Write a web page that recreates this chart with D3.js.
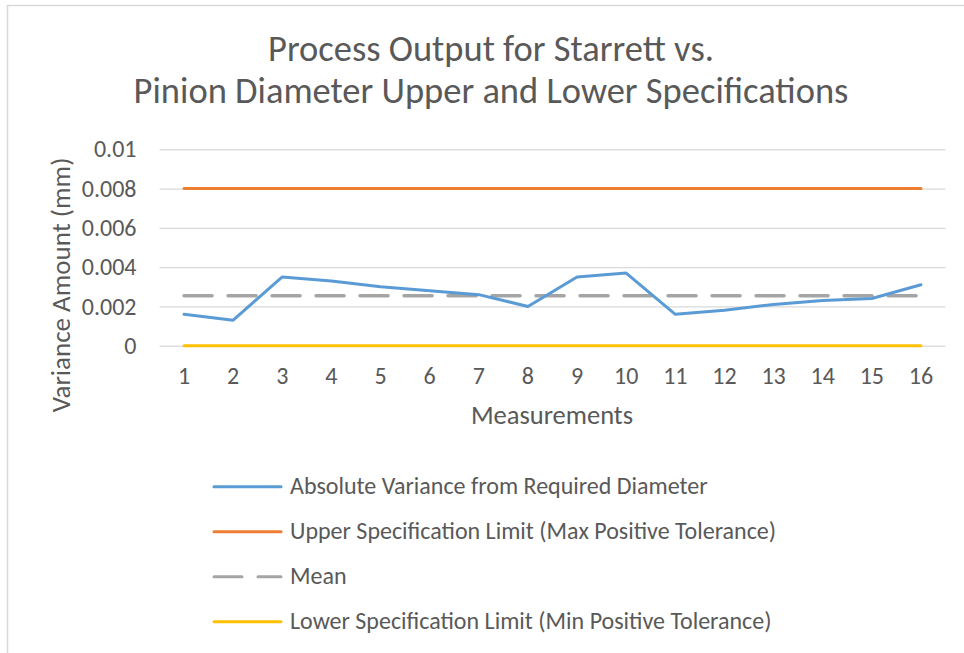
<!DOCTYPE html>
<html>
<head>
<meta charset="utf-8">
<script src="https://cdn.jsdelivr.net/npm/d3@7"></script>
<style>
  body { margin: 0; background: #fff; }
  svg text { font-family: Carlito, Calibri, Lato, sans-serif; fill: #595959; }
</style>
</head>
<body>
<svg id="chart" width="964" height="653"></svg>
<script>
// data
var measurements = ['1','2','3','4','5','6','7','8','9','10','11','12','13','14','15','16'];
var variance = [0.0016, 0.0013, 0.0035, 0.0033, 0.0030, 0.0028, 0.0026, 0.0020,
                0.0035, 0.0037, 0.0016, 0.0018, 0.0021, 0.0023, 0.0024, 0.0031];
var upperLimit = [0.008];
var meanValue = [0.00254];
var lowerLimit = [0];
var yTicks = [0, 0.002, 0.004, 0.006, 0.008, 0.01];
var yTickLabels = ['0', '0.002', '0.004', '0.006', '0.008', '0.01'];
var seriesNames = ['Absolute Variance from Required Diameter',
                   'Upper Specification Limit (Max Positive Tolerance)',
                   'Mean',
                   'Lower Specification Limit (Min Positive Tolerance)'];
var colors = ['#5B9BD5', '#ED7D31', '#A5A5A5', '#FFC000'];

var svg = d3.select('#chart'),
    plot = { left: 159.5, right: 945.5, top: 149.3, bottom: 345.7 },
    fontFam = 'Carlito, Calibri, Lato, sans-serif';

// chart frame (only top and left edges show in the picture)
svg.append('line').attr('x1', 7.5).attr('x2', 7.5).attr('y1', 5).attr('y2', 653)
    .attr('stroke', '#D9D9D9').attr('stroke-width', 1.5);
svg.append('line').attr('x1', 7).attr('x2', 964).attr('y1', 5.5).attr('y2', 5.5)
    .attr('stroke', '#D9D9D9').attr('stroke-width', 1.5);

var x = d3.scaleBand().domain(measurements).range([plot.left, plot.right]).padding(0);
var y = d3.scaleLinear().domain([0, 0.01]).range([plot.bottom, plot.top]);
function cx(d) { return x(d) + x.bandwidth() / 2; }

// Title
var title = svg.append('text').attr('text-anchor', 'middle').style('font-size', '36.5px');
title.append('tspan').attr('x', 491).attr('y', 61).text('Process Output for Starrett vs.');
title.append('tspan').attr('x', 491).attr('y', 103).text('Pinion Diameter Upper and Lower Specifications');

// gridlines + y labels
var yAxis = d3.axisLeft(y).tickValues(yTicks)
    .tickFormat(function (d, i) { return yTickLabels[i]; })
    .tickSize(-(plot.right - plot.left)).tickPadding(23);
var gy = svg.append('g').attr('transform', 'translate(' + plot.left + ',0)').call(yAxis);
gy.select('.domain').remove();
gy.selectAll('line').attr('stroke', '#D9D9D9').attr('stroke-width', 1.3);
gy.selectAll('text').style('font-size', '24px').attr('fill', '#595959')
    .style('font-family', fontFam);

// x labels
var xAxis = d3.axisBottom(x).tickSize(0).tickPadding(21);
var gx = svg.append('g').attr('transform', 'translate(0,' + plot.bottom + ')').call(xAxis);
gx.select('.domain').remove();
gx.selectAll('text').style('font-size', '24px').attr('fill', '#595959')
    .style('font-family', fontFam);

// axis titles
svg.append('text').attr('x', 552).attr('y', 424).attr('text-anchor', 'middle')
    .style('font-size', '26.5px').text('Measurements');
svg.append('text').attr('transform', 'translate(70,285) rotate(-90)').attr('text-anchor', 'middle')
    .style('font-size', '27px').text('Variance Amount (mm)');

// series
var line = d3.line().x(function (d) { return cx(d.m); }).y(function (d) { return y(d.v); });
function flat(v) { return measurements.map(function (m) { return { m: m, v: v }; }); }
var series = [
    variance.map(function (v, i) { return { m: measurements[i], v: v }; }),
    flat(upperLimit[0]),
    flat(meanValue[0]),
    flat(lowerLimit[0])
];
var drawOrder = [1, 2, 3, 0];
drawOrder.forEach(function (k) {
    svg.append('path').datum(series[k]).attr('d', line)
        .attr('fill', 'none').attr('stroke', colors[k]).attr('stroke-width', k == 2 ? 3.5 : 3)
        .attr('stroke-linecap', 'round').attr('stroke-linejoin', 'round')
        .attr('stroke-dasharray', k == 2 ? '28,16' : null);
});

// legend
var legend = svg.selectAll('.legend').data(seriesNames).enter().append('g')
    .attr('class', 'legend')
    .attr('transform', function (d, i) { return 'translate(0,' + (486.7 + i * 45) + ')'; });
legend.append('line').attr('x1', 214).attr('x2', 281).attr('y1', 0).attr('y2', 0)
    .attr('stroke', function (d, i) { return colors[i]; }).attr('stroke-width', 3)
    .attr('stroke-linecap', 'round')
    .attr('stroke-dasharray', function (d, i) { return i == 2 ? '28,16' : null; });
legend.append('text').attr('x', 290).attr('y', 7.5).style('font-size', '24px').text(function (d) { return d; });
</script>
</body>
</html>
